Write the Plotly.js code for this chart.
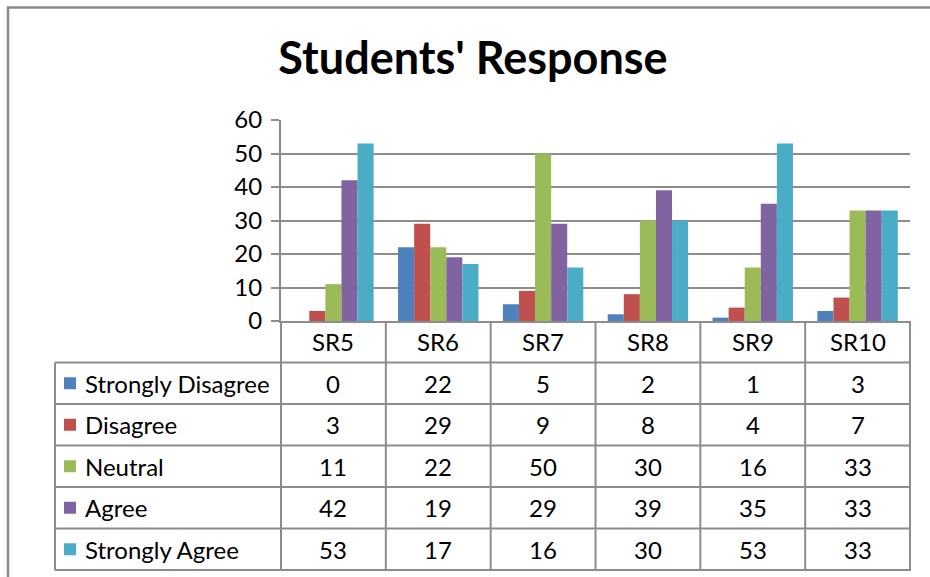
<!DOCTYPE html>
<html>
<head>
<meta charset="utf-8">
<script src="https://cdn.plot.ly/plotly-3.0.1.min.js"></script>
<style>html,body{margin:0;padding:0;background:#fff;}#chart{width:930px;height:577px;}</style>
</head>
<body>
<div id="chart"></div>
<script>
// ---- data ----
const categories = ['SR5', 'SR6', 'SR7', 'SR8', 'SR9', 'SR10'];
const seriesNames = ['Strongly Disagree', 'Disagree', 'Neutral', 'Agree', 'Strongly Agree'];
const stronglyDisagree = [0, 22, 5, 2, 1, 3];
const disagree = [3, 29, 9, 8, 4, 7];
const neutral = [11, 22, 50, 30, 16, 33];
const agree = [42, 19, 29, 39, 35, 33];
const stronglyAgree = [53, 17, 16, 30, 53, 33];
const yTicks = [0, 10, 20, 30, 40, 50, 60];
const chartTitle = "Students' Response";

// ---- styles / layout geometry ----
const colors = ['#4F81BD', '#C0504D', '#9BBB59', '#8064A2', '#4BACC6'];
const seriesValues = [stronglyDisagree, disagree, neutral, agree, stronglyAgree];
const W = 930, H = 577;
const px = x => x / W;
const py = y => 1 - y / H;
const plotLeft = 281, plotRight = 910, plotTop = 120, plotBottom = 321;
const tableLeft = 55, rowH = 41.5;
const lineCol = '#8c8c8c';
const FONT = 'Lato, "Open Sans", sans-serif';
const fsz = 24;

const traces = seriesNames.map((name, s) => ({
  type: 'bar',
  name: name,
  x: categories,
  y: seriesValues[s],
  marker: {color: colors[s], line: {width: 0}},
  hoverinfo: 'x+y+name'
}));

const shapes = [];
const annotations = [];

// outer frame
shapes.push({type: 'rect', xref: 'paper', yref: 'paper', x0: px(8), x1: px(960), y0: py(7.5), y1: py(620),
  line: {color: '#8a8a8a', width: 2.5}, fillcolor: 'rgba(0,0,0,0)'});

const rowY = k => plotBottom + k * rowH;   // k = 0..6 boundaries
const nRows = seriesNames.length + 1;

// horizontal table lines (below header)
for (let k = 1; k <= nRows; k++) {
  shapes.push({type: 'line', xref: 'paper', yref: 'paper', x0: px(tableLeft), x1: px(plotRight + 1),
    y0: py(rowY(k)), y1: py(rowY(k)), line: {color: lineCol, width: 2}});
}
// vertical lines (category boundaries)
for (let i = 0; i <= categories.length; i++) {
  const edge = (i === 0 || i === categories.length);
  shapes.push({type: 'line',
    xref: edge ? 'x domain' : 'x', x0: edge ? (i === 0 ? 0 : 1) : i - 0.5, x1: edge ? (i === 0 ? 0 : 1) : i - 0.5,
    yref: 'paper', y0: py(plotBottom), y1: py(rowY(nRows)), line: {color: lineCol, width: 2}});
}
// left edge of label column
shapes.push({type: 'line', xref: 'paper', yref: 'paper', x0: px(tableLeft), x1: px(tableLeft),
  y0: py(rowY(1)), y1: py(rowY(nRows)), line: {color: lineCol, width: 2}});

// header row labels
categories.forEach(c => {
  annotations.push({xref: 'x', yref: 'paper', x: c, y: py(plotBottom + rowH / 2), text: c, showarrow: false,
    xanchor: 'center', yanchor: 'middle', font: {family: FONT, size: fsz, color: '#000'}});
});
// series rows
seriesNames.forEach((name, s) => {
  const cy = plotBottom + (s + 1.5) * rowH;
  shapes.push({type: 'rect', xref: 'paper', yref: 'paper', x0: px(64), x1: px(76), y0: py(cy - 6), y1: py(cy + 6),
    line: {width: 0}, fillcolor: colors[s]});
  annotations.push({xref: 'paper', yref: 'paper', x: px(83), y: py(cy), text: name, showarrow: false,
    xanchor: 'left', yanchor: 'middle', font: {family: FONT, size: fsz, color: '#000'}});
  categories.forEach((c, i) => {
    annotations.push({xref: 'x', yref: 'paper', x: c, y: py(cy), text: String(seriesValues[s][i]), showarrow: false,
      xanchor: 'center', yanchor: 'middle', font: {family: FONT, size: fsz, color: '#000'}});
  });
});

const layout = {
  width: W, height: H,
  margin: {l: 0, r: 0, t: 0, b: 0},
  paper_bgcolor: '#fff', plot_bgcolor: '#fff',
  showlegend: false,
  barmode: 'group', bargap: 0.233, bargroupgap: 0,
  title: {text: '<b>' + chartTitle + '</b>', x: px(473), xanchor: 'center', y: py(58), yanchor: 'middle',
    font: {family: FONT, size: 45, color: '#000'}},
  xaxis: {domain: [px(plotLeft), px(plotRight)], type: 'category', range: [-0.5, categories.length - 0.5],
    showticklabels: false, ticks: '', showgrid: false, zeroline: false,
    showline: true, linecolor: lineCol, linewidth: 2, fixedrange: true},
  yaxis: {domain: [py(plotBottom), py(plotTop)], range: [0, 60], tickvals: yTicks, ticks: 'outside', ticklen: 8,
    tickcolor: lineCol, tickwidth: 2, showline: true, linecolor: lineCol, linewidth: 2,
    showgrid: true, gridcolor: lineCol, gridwidth: 2, zeroline: false, ticklabelstandoff: 4,
    tickfont: {family: FONT, size: fsz, color: '#000'}, fixedrange: true},
  shapes: shapes,
  annotations: annotations
};

Plotly.newPlot('chart', traces, layout, {displayModeBar: false, staticPlot: true});
</script>
</body>
</html>
